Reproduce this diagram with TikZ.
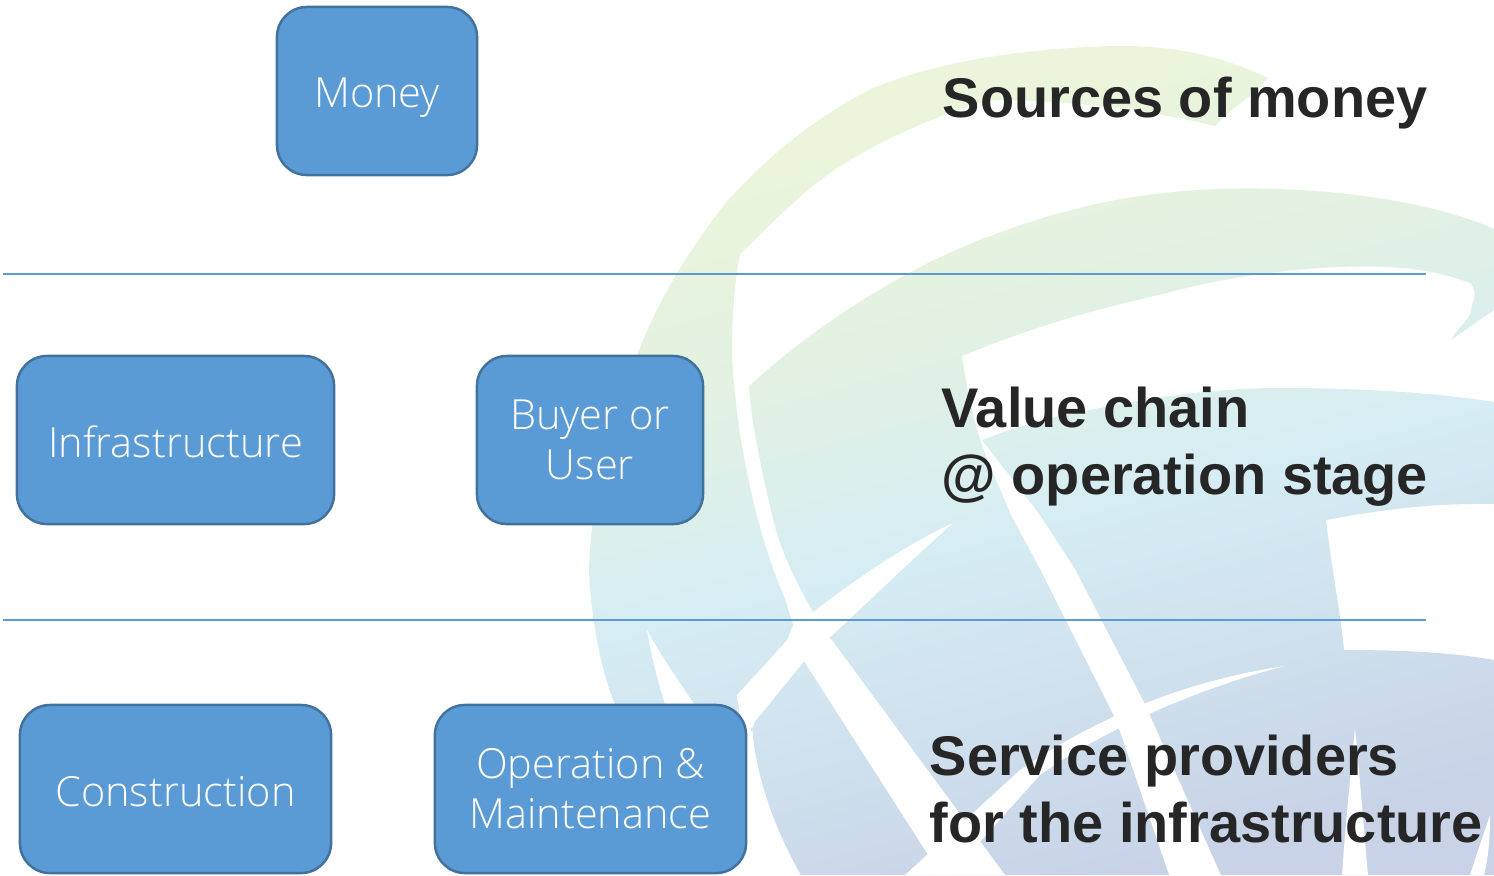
\documentclass[tikz,border=0pt]{standalone}
\usepackage{fontspec}
\setmainfont{Liberation Sans}
\newfontfamily\boxfont{Open Sans Light}
\usepackage[HTML]{xcolor}
\usepackage{tikz}
\definecolor{boxfill}{HTML}{5B9BD5}
\definecolor{boxline}{HTML}{41719C}
\definecolor{headtext}{HTML}{262626}
\definecolor{globea}{HTML}{EBF5DC}
\definecolor{globeb}{HTML}{E2F1E2}
\definecolor{globec}{HTML}{D6EDF4}
\definecolor{globed}{HTML}{C8D3E7}
\pgfdeclareverticalshading{globeshade}{100bp}{
  color(0bp)=(globed); color(25bp)=(globed); color(46bp)=(globec); color(58bp)=(globeb); color(70bp)=(globea); color(100bp)=(globea)}
\tikzset{
  rolebox/.style={draw=boxline, line width=0.7pt, fill=boxfill, rounded corners=0.3cm, text=white,
    minimum height=1.68cm, align=center, inner sep=0pt, font=\boxfont\fontsize{11.8}{14.2}\selectfont},
  headtxt/.style={anchor=north west, align=left, inner sep=0pt, text=headtext,
    font=\bfseries\fontsize{15.9}{19.2}\selectfont},
  rule/.style={boxfill, line width=0.4pt}
}

\begin{document}
\begin{tikzpicture}[x=0.01cm, y=-0.01cm]
\useasboundingbox (0,0) rectangle (1494,875);

% globe in the background
\begin{scope}
\clip (1268,78) .. controls (1210,50) and (1160,46) .. (1116,46)
  .. controls (1030,48) and (940,60) .. (871,89)
  .. controls (810,120) and (765,160) .. (726,202)
  .. controls (690,250) and (660,295) .. (638,353)
  .. controls (610,420) and (592,490) .. (589,569)
  .. controls (590,610) and (600,670) .. (615,704)
  -- (740,760) -- (793,625) -- (784,596)
  .. controls (755,530) and (735,430) .. (732,353)
  .. controls (732,310) and (735,280) .. (740,254)
  .. controls (780,215) and (810,185) .. (842,165)
  .. controls (890,135) and (940,115) .. (988,100)
  .. controls (1070,100) and (1150,110) .. (1215,126)
  .. controls (1235,105) and (1255,95) .. (1268,78) -- cycle
  % middle swoosh
  (749,386) .. controls (805,335) and (865,295) .. (930,262)
  .. controls (985,235) and (1045,215) .. (1105,202)
  .. controls (1165,190) and (1225,187) .. (1280,189)
  .. controls (1360,192) and (1440,205) .. (1494,229)
  -- (1494,310) -- (1451,340)
  .. controls (1460,325) and (1472,318) .. (1472,305)
  .. controls (1476,295) and (1475,288) .. (1470,283)
  .. controls (1430,268) and (1390,265) .. (1338,267)
  .. controls (1270,270) and (1215,280) .. (1163,294)
  .. controls (1090,310) and (1025,330) .. (962,356)
  .. controls (968,395) and (975,430) .. (988,461)
  -- (1011,515) -- (1040,569) -- (1116,720) -- (1169,875) -- (801,875)
  .. controls (775,830) and (755,775) .. (752,725) -- (804,661)
  -- (813,612)
  .. controls (795,580) and (780,550) .. (772,515)
  .. controls (762,470) and (752,430) .. (749,386) -- cycle
  % right hand piece
  (982,440) .. controls (1020,425) and (1060,415) .. (1105,407)
  .. controls (1165,395) and (1225,388) .. (1280,388)
  .. controls (1360,388) and (1440,393) .. (1494,402)
  -- (1494,504) .. controls (1430,503) and (1380,510) .. (1326,520)
  .. controls (1332,570) and (1340,610) .. (1344,650)
  .. controls (1400,650) and (1450,652) .. (1494,660)
  -- (1494,875) -- (1221,875) -- (1145,704) -- (1075,569) -- (1040,515) -- cycle;
\shade[shading=globeshade, shading angle=15] (560,30) rectangle (1494,875);
\end{scope}
% white bands across the globe
\fill[white] (953,523) .. controls (905,545) and (855,580) .. (813,612)
  -- (737,695) -- (746,760) -- (752,725) -- (804,661)
  .. controls (850,620) and (900,570) .. (953,523) -- cycle;
\fill[white] (793,628) -- (831,639) -- (1005,875) -- (941,875) -- (804,661) -- cycle;
\fill[white] (647,630) .. controls (660,655) and (685,690) .. (705,720) -- (670,720)
  .. controls (660,690) and (652,660) .. (647,630) -- cycle;
\fill[white] (1285,666) .. controls (1210,685) and (1110,725) .. (1040,775)
  -- (950,875) -- (905,875) -- (1020,770)
  .. controls (1100,715) and (1190,680) .. (1285,666) -- cycle;
\fill[white] (1355,728) .. controls (1350,780) and (1345,830) .. (1342,875) -- (1368,875)
  .. controls (1364,830) and (1360,780) .. (1355,728) -- cycle;
\fill[white] (1470,875) .. controls (1478,850) and (1485,830) .. (1490,815)
  .. controls (1490,840) and (1488,860) .. (1484,875) -- cycle;

% dividing lines
\coordinate (ruleaL) at (3,274);
\coordinate (ruleaR) at (1426,274);
\coordinate (rulebL) at (3,620);
\coordinate (rulebR) at (1426,620);
\draw[rule] (ruleaL) -- (ruleaR);
\draw[rule] (rulebL) -- (rulebR);

% role boxes
\node[rolebox, minimum width=2.0cm, text height=0.42cm, text depth=0.10cm] (money) at (377,91) {Money};
\node[rolebox, minimum width=3.17cm, text height=0.44cm, text depth=0.10cm] (infra) at (175.5,440) {Infrastructure};
\node[rolebox, minimum width=2.26cm] (buyer) at (590,440) {Buyer or\\User};
\node[rolebox, minimum width=3.11cm, text height=0.44cm, text depth=0.10cm] (constr) at (175.5,789) {Construction};
\node[rolebox, minimum width=3.11cm] (opmaint) at (590.5,789) {Operation \&\\Maintenance};

% right hand captions
\node[headtxt] (srctxt) at (942,76) {Sources of money};
\node[headtxt] (valtxt) at (941,386) {Value chain\\@ operation stage};
\node[headtxt] (svctxt) at (929,734) {Service providers\\for the infrastructure};
\end{tikzpicture}
\end{document}
